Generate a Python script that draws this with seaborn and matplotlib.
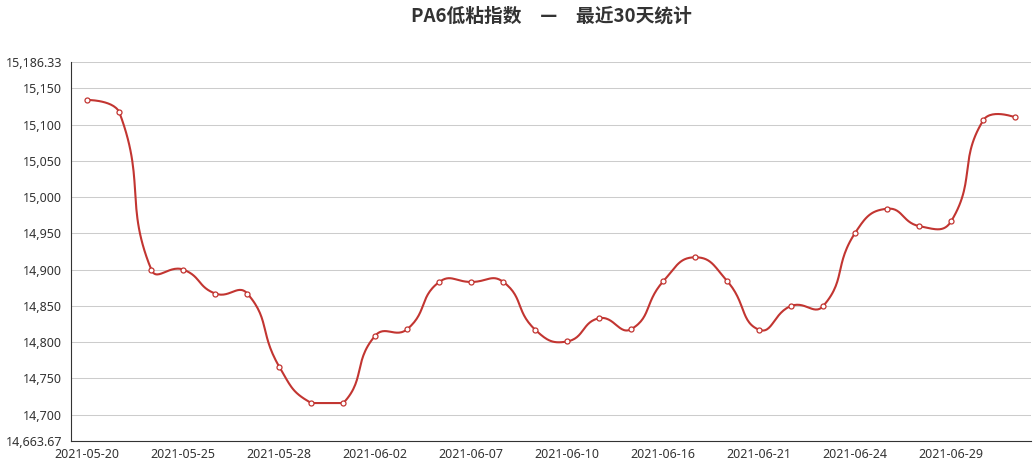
import numpy as np
import pandas as pd
import matplotlib
matplotlib.use("Agg")
import matplotlib.pyplot as plt
import seaborn as sns

# trading days (only every third one is labelled on the chart)
dates = ["2021-05-20", "2021-05-21", "2021-05-24", "2021-05-25", "2021-05-26",
         "2021-05-27", "2021-05-28", "2021-05-31", "2021-06-01", "2021-06-02",
         "2021-06-03", "2021-06-04", "2021-06-07", "2021-06-08", "2021-06-09",
         "2021-06-10", "2021-06-11", "2021-06-15", "2021-06-16", "2021-06-17",
         "2021-06-18", "2021-06-21", "2021-06-22", "2021-06-23", "2021-06-24",
         "2021-06-25", "2021-06-28", "2021-06-29", "2021-06-30", "2021-07-01"]
values = [15134, 15117, 14900, 14900, 14867, 14867, 14766, 14716, 14716, 14809,
          14818, 14883, 14883, 14883, 14817, 14801, 14833, 14818, 14884, 14917,
          14884, 14817, 14850, 14850, 14951, 14984, 14960, 14967, 15106, 15110]
y_min, y_max = 14663.67, 15186.33
y_ticks = [14663.67, 14700, 14750, 14800, 14850, 14900, 14950,
           15000, 15050, 15100, 15150, 15186.33]
title = "PA6低粘指数\u3000—\u3000最近30天统计"

LINE = "#c23531"
W, H = 1035, 468
L, R, T, B = 71.3, 1031.3, 62, 441


def smooth_curve(px, py, smooth=0.5, n=30):
    # bezier smoothing with control points kept inside the data box
    pts = np.column_stack([px, py]).astype(float)
    lo, hi = pts.min(axis=0), pts.max(axis=0)
    t = np.linspace(0, 1, n)[1:, None]
    cp0 = pts[0].copy()
    out = [pts[:1]]
    for i in range(1, len(pts)):
        prev, p = pts[i - 1], pts[i]
        if i + 1 < len(pts):
            nxt = pts[i + 1]
            v = nxt - prev
            l0 = np.hypot(*(p - prev))
            l1 = np.hypot(*(nxt - p))
            r = l1 / (l0 + l1)
            cp1 = p - v * smooth * (1 - r)
        else:
            cp1, v, r = p.copy(), np.zeros(2), 0.5
        c0 = np.clip(cp0, lo, hi)
        c1 = np.clip(cp1, lo, hi)
        seg = ((1 - t) ** 3 * prev + 3 * (1 - t) ** 2 * t * c0
               + 3 * (1 - t) * t ** 2 * c1 + t ** 3 * p)
        out.append(seg)
        cp0 = p + v * smooth * r
    return np.vstack(out)


df = pd.DataFrame({"day": np.arange(len(dates)), "date": dates, "value": values})

# work in pixel units so the smoothing looks like it does on screen
kx = (R - L) / len(dates)
ky = (B - T) / (y_max - y_min)
curve = smooth_curve(df["day"] * kx, df["value"] * ky)
cx, cy = curve[:, 0] / kx, curve[:, 1] / ky

sns.set_style("white")
plt.rcParams['font.family'] = ['Noto Sans CJK SC', 'DejaVu Sans']

fig = plt.figure(figsize=(W / 100, H / 100), dpi=100)
ax = fig.add_axes([L / W, 1 - B / H, (R - L) / W, (B - T) / H])

ax.plot(cx, cy, color=LINE, linewidth=1.5, solid_capstyle="round", zorder=3)
sns.scatterplot(data=df, x="day", y="value", ax=ax, marker="o", s=13,
                facecolor="white", edgecolor=LINE, linewidth=0.9, zorder=4,
                legend=False)

ax.set_xlim(-0.5, len(dates) - 0.5)
ax.set_ylim(y_min, y_max)
ax.set_xlabel("")
ax.set_ylabel("")

ax.set_yticks(y_ticks)
ax.set_yticklabels([f"{v:,.2f}" if v % 1 else f"{v:,.0f}" for v in y_ticks],
                   fontfamily=["Noto Sans", "DejaVu Sans"], fontsize=9, color="#333")
ax.yaxis.grid(True, color="#cccccc", linewidth=0.75)
ax.set_axisbelow(True)

ax.set_xticks(np.arange(1.5, len(dates), 3))
ax.set_xticklabels([])
ax.set_xticks(df["day"][::3], minor=True)
ax.set_xticklabels(dates[::3], minor=True, fontfamily=["Noto Sans", "DejaVu Sans"],
                   fontsize=9, color="#333")
ax.tick_params(axis="x", which="major", length=5, width=0.8, color="#333")
ax.tick_params(axis="x", which="minor", length=0, pad=5)
ax.tick_params(axis="y", length=5, width=0.8, color="#333", pad=1.5)

for side in ["top", "right"]:
    ax.spines[side].set_visible(False)
for side in ["left", "bottom"]:
    ax.spines[side].set_color("#333")
    ax.spines[side].set_linewidth(0.8)

fig.text((L + R) / 2 / W, 1 - 16 / H, title, ha="center", va="center",
         fontsize=13.5, fontweight="bold", color="#333")

fig.savefig("out.png", dpi=100)
